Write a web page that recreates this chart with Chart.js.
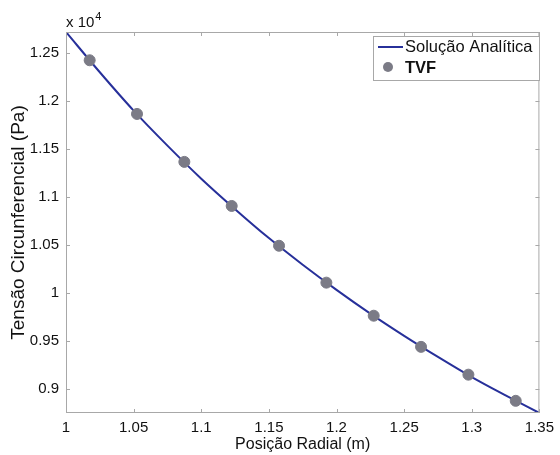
<!DOCTYPE html>
<html><head><meta charset="utf-8">
<script src="https://cdn.jsdelivr.net/npm/chart.js@4.4.1/dist/chart.umd.min.js"></script>
<style>html,body{margin:0;padding:0;background:#fff;}canvas{display:block;}</style>
</head><body>
<canvas id="c" width="560" height="455"></canvas>
<script>
// Data (tensão in units of 10^4 Pa)
const lineX = [1.0, 1.025, 1.05, 1.075, 1.10, 1.125, 1.15, 1.175, 1.20, 1.225, 1.25, 1.275, 1.30, 1.325, 1.35];
const lineY = [1.272, 1.230, 1.190, 1.1535, 1.119, 1.0872, 1.057, 1.0292, 1.003, 0.9782, 0.955, 0.933, 0.912, 0.8929, 0.8745];
const tvfX = [1.0175, 1.0525, 1.0875, 1.1225, 1.1575, 1.1925, 1.2275, 1.2625, 1.2975, 1.3325];
const tvfY = [1.2425, 1.1865, 1.1365, 1.0905, 1.049, 1.0105, 0.976, 0.9435, 0.9145, 0.8872];
const xTicks = [1, 1.05, 1.1, 1.15, 1.2, 1.25, 1.3, 1.35];
const yTicks = [0.9, 0.95, 1, 1.05, 1.1, 1.15, 1.2, 1.25];
const seriesNames = ['Solução Analítica', 'TVF'];

const FONT = '"Liberation Sans", Arial, sans-serif';
const LINE_COLOR = '#27309a';
const MARK_COLOR = '#7b7b86';
const FRAME = '#a8a8a8';

const framePlugin = {
  id: 'frame',
  afterDraw(chart) {
    const ctx = chart.ctx, a = chart.chartArea;
    const xs = chart.scales.x, ys = chart.scales.y;
    ctx.save();
    ctx.strokeStyle = FRAME; ctx.lineWidth = 1;
    ctx.strokeRect(a.left + 0.5, a.top + 0.5, a.right - a.left - 1, a.bottom - a.top - 1);
    ctx.beginPath();
    xTicks.forEach(v => {
      const px = Math.round(xs.getPixelForValue(v)) + 0.5;
      ctx.moveTo(px, a.bottom); ctx.lineTo(px, a.bottom - 4);
      ctx.moveTo(px, a.top); ctx.lineTo(px, a.top + 4);
    });
    yTicks.forEach(v => {
      const py = Math.round(ys.getPixelForValue(v)) + 0.5;
      ctx.moveTo(a.left, py); ctx.lineTo(a.left + 4, py);
      ctx.moveTo(a.right, py); ctx.lineTo(a.right - 4, py);
    });
    ctx.stroke();
    // exponent label
    ctx.fillStyle = '#111';
    ctx.textBaseline = 'alphabetic';
    ctx.font = '15px ' + FONT;
    ctx.fillText('x 10', 66, 27);
    const w = ctx.measureText('x 10').width;
    ctx.font = '11px ' + FONT;
    ctx.fillText('4', 66 + w + 1, 20);
    // legend
    const lx = 373, ly = 36, lw = 166, lh = 44;
    ctx.fillStyle = '#fff';
    ctx.fillRect(lx, ly, lw, lh);
    ctx.strokeStyle = FRAME;
    ctx.strokeRect(lx + 0.5, ly + 0.5, lw, lh);
    ctx.strokeStyle = LINE_COLOR; ctx.lineWidth = 2;
    ctx.beginPath(); ctx.moveTo(378, 47); ctx.lineTo(403, 47); ctx.stroke();
    ctx.fillStyle = MARK_COLOR;
    ctx.beginPath(); ctx.arc(388, 67, 5, 0, Math.PI * 2); ctx.fill();
    ctx.fillStyle = '#111';
    ctx.textBaseline = 'middle';
    ctx.font = '16.5px ' + FONT;
    ctx.fillText(chart.data.datasets[0].label, 405, 47);
    ctx.font = 'bold 16.5px ' + FONT;
    ctx.fillText(chart.data.datasets[1].label, 405, 68);
    ctx.restore();
  }
};

new Chart(document.getElementById('c'), {
  type: 'scatter',
  data: {
    datasets: [
      {
        label: seriesNames[0],
        data: lineX.map((x, i) => ({x, y: lineY[i]})),
        showLine: true,
        borderColor: LINE_COLOR,
        borderWidth: 2,
        pointRadius: 0,
        cubicInterpolationMode: 'monotone',
        order: 2
      },
      {
        label: seriesNames[1],
        data: tvfX.map((x, i) => ({x, y: tvfY[i]})),
        showLine: false,
        backgroundColor: MARK_COLOR,
        borderColor: MARK_COLOR,
        pointRadius: 5.5,
        order: 1
      }
    ]
  },
  options: {
    responsive: false,
    animation: false,
    layout: { padding: { left: 0, right: 17, top: 32, bottom: 0 } },
    plugins: { legend: { display: false }, tooltip: { enabled: false } },
    scales: {
      x: {
        type: 'linear', min: 1, max: 1.35,
        afterFit(s) { s.height = 42; },
        afterBuildTicks(s) { s.ticks = xTicks.map(v => ({value: v})); },
        grid: { display: false, drawTicks: false },
        border: { display: false },
        ticks: { color: '#111', font: { size: 15, family: FONT }, padding: 6,
                 maxRotation: 0, callback: v => String(v) },
        title: { display: true, text: 'Posição Radial (m)', color: '#111',
                 font: { size: 16, family: FONT }, padding: { top: 0, bottom: 1 } }
      },
      y: {
        type: 'linear', min: 0.8745, max: 1.272,
        afterFit(s) { s.width = 66; },
        afterBuildTicks(s) { s.ticks = yTicks.map(v => ({value: v})); },
        grid: { display: false, drawTicks: false },
        border: { display: false },
        ticks: { color: '#111', font: { size: 15, family: FONT }, padding: 7,
                 callback: v => String(v) },
        title: { display: true, text: 'Tensão Circunferencial (Pa)', color: '#111',
                 font: { size: 19, family: FONT }, padding: { top: 7, bottom: 0 } }
      }
    }
  },
  plugins: [framePlugin]
});
</script>
</body></html>
